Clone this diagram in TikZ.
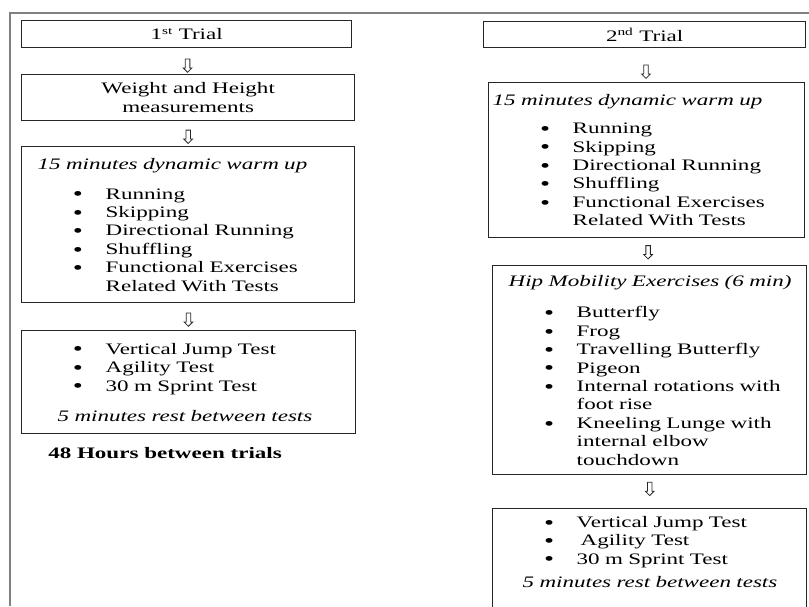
\documentclass[tikz,border=0pt]{standalone}
\usepackage{fontspec}
\setmainfont{Liberation Serif}[FakeStretch=1.44]
\usetikzlibrary{shapes.arrows}
\newcommand{\bulitem}[1]{\hspace*{38.5pt}\makebox[24.5pt][l]{\smash{\raisebox{-1.3pt}{\fontsize{15}{13.8}\selectfont\textbullet}}}#1}
\newcommand{\bulcont}[1]{\hspace*{63pt}#1}

\begin{document}
\begin{tikzpicture}[x=0.75pt,y=0.75pt]
			\tikzstyle{every node}+=[inner sep=0pt, font=\fontsize{12}{13.8}\selectfont]
			\tikzstyle{trialbox}=[draw=black!85, line width=1pt, anchor=north west, align=center]
			\tikzstyle{listbox}=[draw=black!85, line width=1pt, anchor=north west, align=left]
			\tikzstyle{downarrow}=[draw=black!85, line width=0.6pt, single arrow, shape border rotate=270, inner sep=1.4pt, minimum height=10pt, single arrow head extend=1.6pt]
			\clip (0,0) rectangle (809,-606);
			\draw [black!50, line width=1.2pt] (10,-606) -- (10,-13) -- (809,-13);
			\node [trialbox, minimum width=247.5pt, minimum height=20.25pt] (trial1) at (21,-20) {1\textsuperscript{st} Trial};
			\node [trialbox, minimum width=249.75pt, minimum height=34.5pt] (measure) at (21,-74) {Weight and Height\\measurements};
			\node [listbox, text width=249.75pt, minimum height=117pt] (warmup1) at (21,-146) {\hspace*{12pt}\textit{15 minutes dynamic warm up}\\[8.7pt]
				\bulitem{Running}\\
				\bulitem{Skipping}\\
				\bulitem{Directional Running}\\
				\bulitem{Shuffling}\\
				\bulitem{Functional Exercises}\\
				\bulcont{Related With Tests}};
			\node [listbox, text width=250.5pt, minimum height=77.25pt] (tests1) at (21,-330) {\bulitem{Vertical Jump Test}\\
				\bulitem{Agility Test}\\
				\bulitem{30 m Sprint Test}\\[8.7pt]
				\hspace*{27pt}\textit{5 minutes rest between tests}};
			\node [anchor=west, font=\fontsize{12}{13.8}\selectfont\bfseries] (rest) at (48,-453) {48 Hours between trials};
			\node [trialbox, minimum width=241.5pt, minimum height=19.5pt] (trial2) at (483,-21) {2\textsuperscript{nd} Trial};
			\node [listbox, text width=237pt, minimum height=116.25pt] (warmup2) at (488,-82) {\hspace*{3pt}\textit{15 minutes dynamic warm up}\\[7.5pt]
				\bulitem{Running}\\
				\bulitem{Skipping}\\
				\bulitem{Directional Running}\\
				\bulitem{Shuffling}\\
				\bulitem{Functional Exercises}\\
				\bulcont{Related With Tests}};
			\node [listbox, text width=235.5pt, minimum height=156.75pt] (hip) at (492,-265) {\hspace*{12pt}\textit{Hip Mobility Exercises (6 min)}\\[10pt]
				\bulitem{Butterfly}\\
				\bulitem{Frog}\\
				\bulitem{Travelling Butterfly}\\
				\bulitem{Pigeon}\\
				\bulitem{Internal rotations with}\\
				\bulcont{foot rise}\\
				\bulitem{Kneeling Lunge with}\\
				\bulcont{internal elbow}\\
				\bulcont{touchdown}};
			\node [listbox, text width=235.5pt] (tests2) at (492,-508) {\rule{0pt}{14pt}\bulitem{Vertical Jump Test}\\
				\bulitem{\hspace{3pt}Agility Test}\\
				\bulitem{30 m Sprint Test}\\[4pt]
				\hspace*{22.5pt}\textit{5 minutes rest between tests}\\
				\rule{0pt}{40pt}};
			\path (trial1.south) -- node [downarrow, pos=0.63] (arr1) {} (measure.north);
			\path (measure.south) -- node [downarrow, pos=0.58] (arr2) {} (warmup1.north);
			\path (warmup1.south) -- node [downarrow, pos=0.57] (arr3) {} (tests1.north);
			\path (trial2.south) -- node [downarrow, pos=0.66] (arr4) {} (warmup2.north);
			\path (warmup2.south) -- node [downarrow, pos=0.48] (arr5) {} (hip.north);
			\path (hip.south) -- node [downarrow, pos=0.38] (arr6) {} (tests2.north);
		\end{tikzpicture}
\end{document}
